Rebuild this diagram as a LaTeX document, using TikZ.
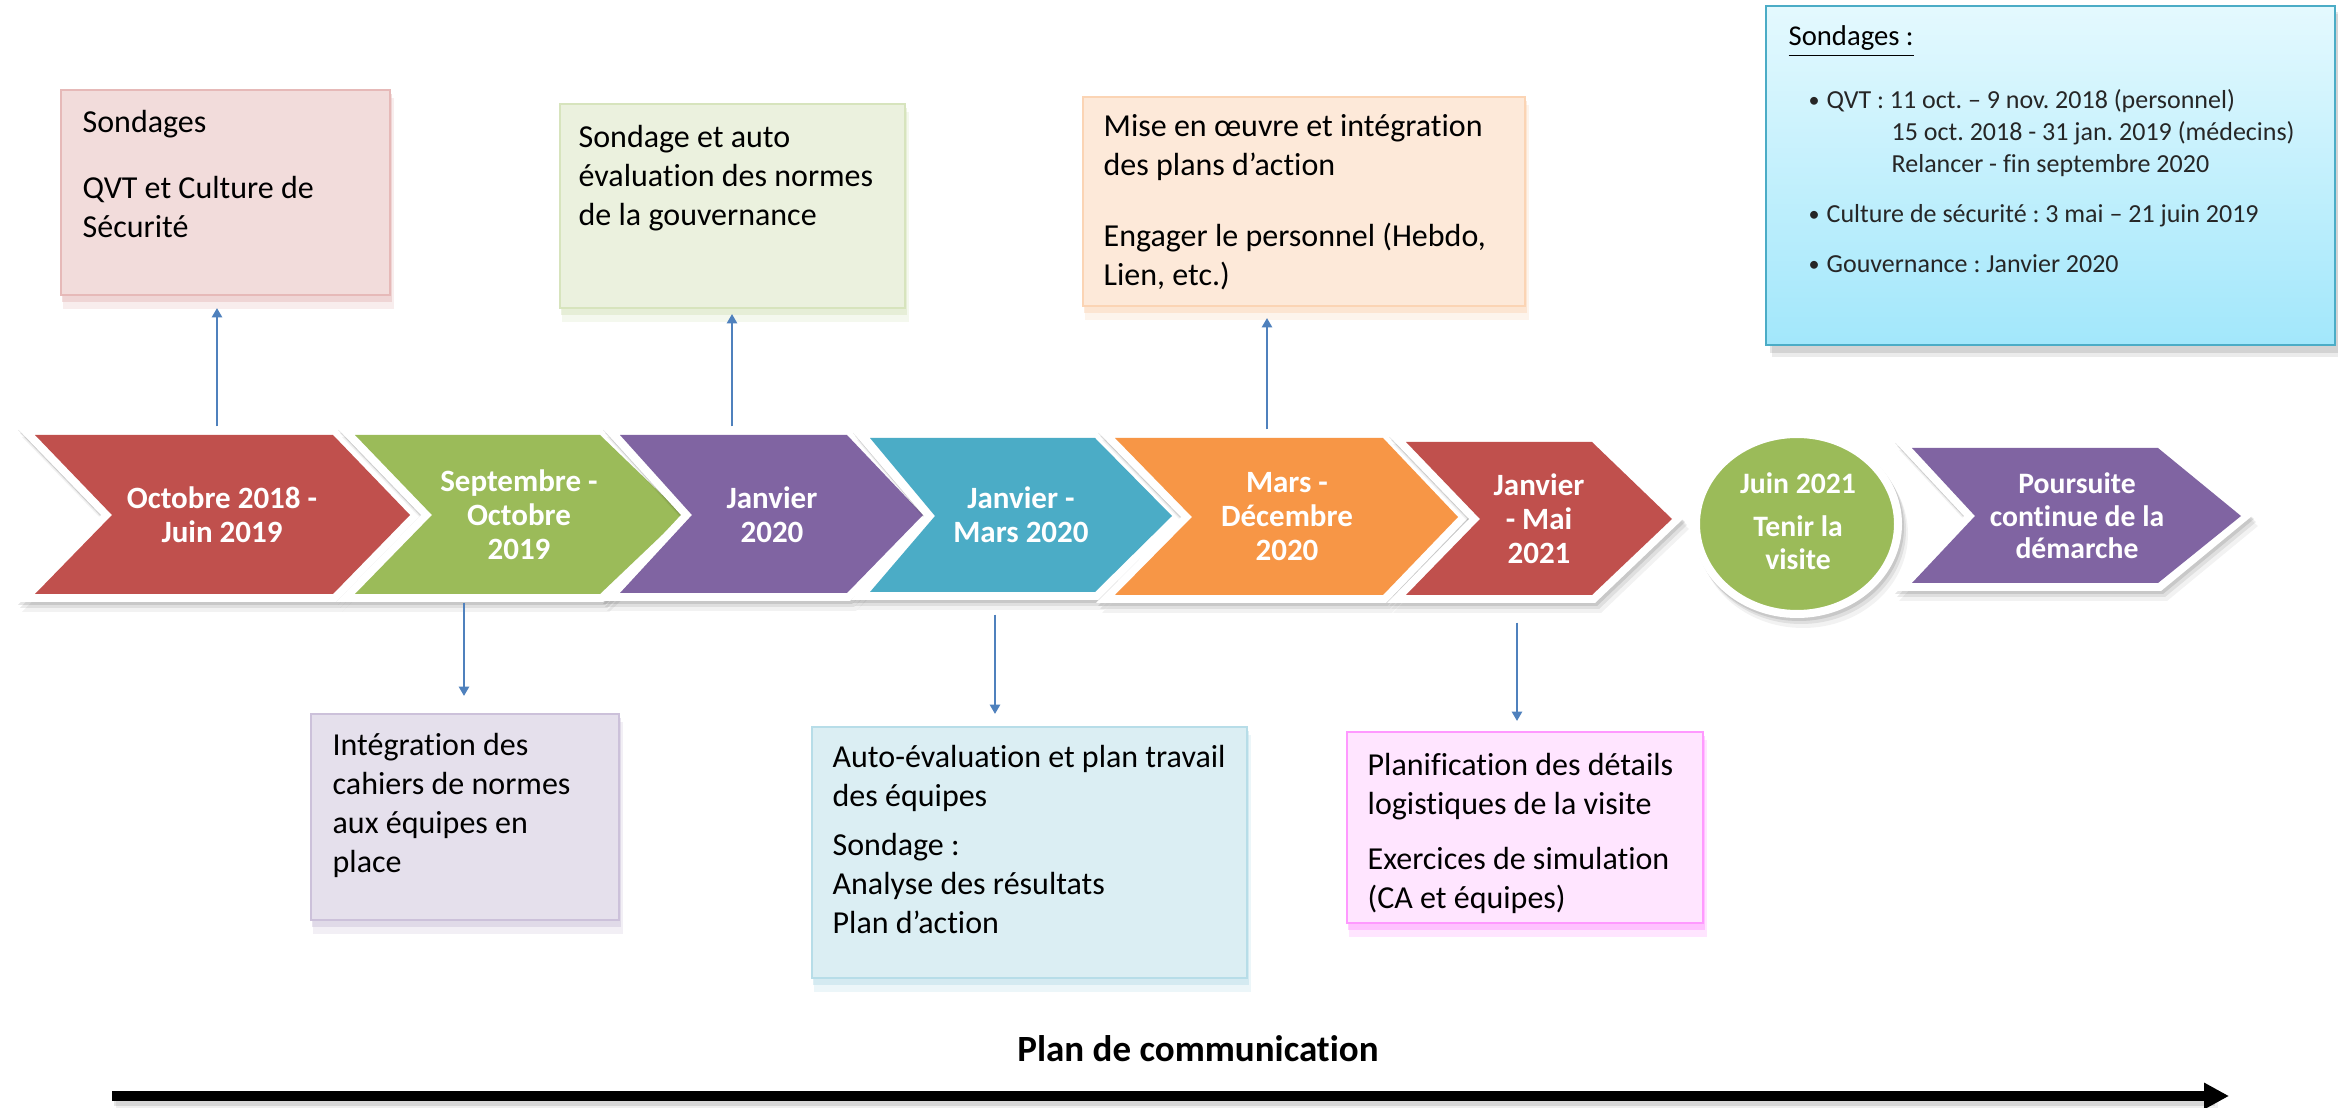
\documentclass[tikz,border=0pt]{standalone}
\usepackage{fontspec}
\setmainfont{Carlito}[Ligatures=NoCommon]
\usetikzlibrary{fit,arrows.meta,shapes.geometric}
\frenchspacing
\definecolor{cRed}{HTML}{C0504D}
\definecolor{cGreen}{HTML}{9BBB59}
\definecolor{cPurple}{HTML}{8064A2}
\definecolor{cAqua}{HTML}{4BACC6}
\definecolor{cOrange}{HTML}{F79646}
\definecolor{arrowBlue}{HTML}{4F81BD}
\definecolor{pinkFill}{HTML}{F2DCDB}\definecolor{pinkLine}{HTML}{E6B9B8}
\definecolor{greenFill}{HTML}{EBF1DE}\definecolor{greenLine}{HTML}{D7E4BD}
\definecolor{orangeFill}{HTML}{FDE9D9}\definecolor{orangeLine}{HTML}{FBD4B4}
\definecolor{lilacFill}{HTML}{E5E0EC}\definecolor{lilacLine}{HTML}{CCC1DA}
\definecolor{aquaFill}{HTML}{DBEEF3}\definecolor{aquaLine}{HTML}{B7DDE8}
\definecolor{magFill}{HTML}{FFE5FF}\definecolor{magLine}{HTML}{FF99FF}
\definecolor{infoTop}{HTML}{E4F9FE}\definecolor{infoBot}{HTML}{A2E7FB}\definecolor{infoLine}{HTML}{4BACC6}
\definecolor{listGray}{HTML}{262626}

% #1 name, #2 L, #3 notch, #4 R, #5 tip, #6 top, #7 mid, #8 bottom, #9 colour
\newcommand{\chevron}[9]{%
  \foreach \sx/\sy/\op in {2/3/0.10,4/6/0.08,6/10/0.05}{%
    \fill[black,opacity=\op,shift={(\sx,\sy)}] (#2-19,#6-8) -- (#4+3,#6-8) -- (#5+11,#7) -- (#4+3,#8+8) -- (#2-19,#8+8) -- (#3-11,#7) -- cycle;
  }%
  \fill[white] (#2-19,#6-8) -- (#4+3,#6-8) -- (#5+11,#7) -- (#4+3,#8+8) -- (#2-19,#8+8) -- (#3-11,#7) -- cycle;
  \fill[#9] (#2,#6) -- (#4,#6) -- (#5,#7) -- (#4,#8) -- (#2,#8) -- (#3,#7) -- cycle;
  \node[fit={(#2,#6) (#5,#8)}, inner sep=2.4pt] (#1) {};
}
% #1 name, #2 x1, #3 y1, #4 x2, #5 y2, #6 fill, #7 line/shadow
\newcommand{\textbox}[7]{%
  \fill[#7,opacity=0.25] (#2+2,#3+8) rectangle (#4+4,#5+14);
  \fill[#7,opacity=0.45] (#2+1,#3+4) rectangle (#4+2,#5+7);
  \node[fit={(#2,#3) (#4,#5)}, inner sep=0pt, fill=#6, draw=#7, line width=0.6pt] (#1) {};
}
\newcommand{\bul}{\makebox[5.4pt][l]{\raisebox{0.2pt}{\scalebox{0.85}{•}}}}

\begin{document}
\begin{tikzpicture}[x=0.3pt,y=-0.3pt,
  conn/.style={draw=arrowBlue, line width=0.75pt, -{Triangle[length=2.8pt,width=3pt]}},
  chevtxt/.style={text=white, align=center, inner sep=0pt, font=\bfseries\fontsize{9.3}{10.2}\selectfont},
  chevtxtsm/.style={text=white, align=center, inner sep=0pt, font=\bfseries\fontsize{8.9}{9.8}\selectfont},
  boxtxt/.style={anchor=north west, align=left, inner sep=0pt, text=black, font=\fontsize{9.6}{11.7}\selectfont},
  listtxt/.style={anchor=north west, align=left, inner sep=0pt, text=listGray, font=\fontsize{7.8}{9.6}\selectfont}
]
\useasboundingbox (0,0) rectangle (2338,1108);
\fill[white] (0,0) rectangle (2338,1108);

% ---------- timeline chevrons ----------
\chevron{c1}{35}{112}{333}{410}{435}{515}{594}{cRed}
\chevron{c2}{355}{432}{600}{683}{435}{515}{594}{cGreen}
\chevron{c3}{620}{692}{847}{923}{435}{515}{593}{cPurple}
\chevron{c4}{870}{935}{1095}{1172}{438}{516}{592}{cAqua}
\chevron{c5}{1115}{1192}{1383}{1458}{438}{517}{595}{cOrange}
\chevron{c6}{1406}{1480}{1592}{1672}{442}{519}{595}{cRed}

% ellipse
\foreach \sx/\sy/\op in {2/3/0.10,4/6/0.08,6/10/0.05}{
  \fill[black,opacity=\op,shift={(\sx,\sy)}] (1797,524) ellipse [x radius=31.5pt, y radius=28.2pt];
}
\node[ellipse, fill=cGreen, draw=white, line width=2.4pt, minimum width=60.6pt, minimum height=54pt, inner sep=0pt] (c7) at (1797,524) {};

\chevron{c8}{1912}{1975}{2158}{2241}{448}{516}{583}{cPurple}

\node[chevtxt] (c1t) at (222,515) {Octobre 2018 -\\Juin 2019};
\node[chevtxt] (c2t) at (519,515) {Septembre -\\Octobre\\2019};
\node[chevtxt] (c3t) at (772,515) {Janvier\\2020};
\node[chevtxt] (c4t) at (1021,515) {Janvier -\\Mars 2020};
\node[chevtxt] (c5t) at (1287,517) {Mars -\\Décembre\\2020};
\node[chevtxt] (c6t) at (1539,519) {Janvier\\- Mai\\2021};
\node[chevtxtsm] (c7t) at (1798,521) {Juin 2021\\[3.3pt]Tenir la\\visite};
\node[chevtxtsm] (c8t) at (2077,516) {Poursuite\\continue de la\\démarche};

% ---------- text boxes ----------
\textbox{b1}{61}{90}{390}{295}{pinkFill}{pinkLine}
\textbox{b2}{560}{104}{905}{308}{greenFill}{greenLine}
\textbox{b3}{1083}{97}{1525}{306}{orangeFill}{orangeLine}
\textbox{b4}{311}{714}{619}{920}{lilacFill}{lilacLine}
\textbox{b5}{812}{727}{1247}{978}{aquaFill}{aquaLine}
\textbox{b6}{1347}{732}{1703}{923}{magFill}{magLine}

\node[boxtxt] (b1t) at (82,104.7) {\strut Sondages\\[8.1pt]QVT et Culture de\\Sécurité};
\node[boxtxt] (b2t) at (578,119.7) {\strut Sondage et auto\\évaluation des normes\\de la gouvernance};
\node[boxtxt] (b3t) at (1103,108.7) {\strut Mise en œuvre et intégration\\des plans d’action\\[9.6pt]Engager le personnel (Hebdo,\\Lien, etc.)};
\node[boxtxt] (b4t) at (332,727.7) {\strut Intégration des\\cahiers de normes\\aux équipes en\\place};
\node[boxtxt] (b5t) at (832,739.7) {\strut Auto-évaluation et plan travail\\des équipes\\[3pt]Sondage :\\Analyse des résultats\\Plan d’action};
\node[boxtxt] (b6t) at (1367,747.7) {\strut Planification des détails\\logistiques de la visite\\[4.8pt]Exercices de simulation\\(CA et équipes)};

% ---------- info box ----------
\fill[black,opacity=0.10] (1770,12) rectangle (2338,353);
\fill[black,opacity=0.08] (1772,14) rectangle (2338,357);
\node[fit={(1766,6) (2335,345)}, inner sep=0pt, draw=infoLine, line width=0.7pt, top color=infoTop, bottom color=infoBot] (info) {};
\node[anchor=base west, inner sep=0pt, font=\fontsize{8.6}{10}\selectfont] (infot) at (1788,46) {\underline{Sondages :}};
\node[listtxt] (infol) at (1808,85.6) {\strut\bul QVT : 11 oct. – 9 nov. 2018 (personnel)\\
\hspace*{24.9pt}15 oct. 2018 - 31 jan. 2019 (médecins)\\
\hspace*{24.9pt}Relancer - fin septembre 2020\\[5.4pt]
\bul Culture de sécurité : 3 mai – 21 juin 2019\\[5.4pt]
\bul Gouvernance : Janvier 2020};

% ---------- connectors ----------
\coordinate (ax1) at (217,0);
\coordinate (ax2) at (732,0);
\coordinate (ax3) at (1267,0);
\coordinate (ax4) at (464,0);
\coordinate (ax5) at (995,0);
\coordinate (ax6) at (1517,0);
\draw[conn, shorten >=3.6pt] (c1.north -| ax1) -- (b1.south -| ax1);
\draw[conn, shorten >=1.5pt] (c3.north -| ax2) -- (b2.south -| ax2);
\draw[conn, shorten >=3.3pt] (c5.north -| ax3) -- (b3.south -| ax3);
\draw[conn, shorten >=5.1pt] (c2.south -| ax4) -- (b4.north -| ax4);
\draw[conn, shorten <=4.2pt, shorten >=3.6pt] (c4.south -| ax5) -- (b5.north -| ax5);
\draw[conn, shorten <=5.7pt, shorten >=3pt] (c6.south -| ax6) -- (b6.north -| ax6);

% ---------- communication plan ----------
\node[inner sep=0pt, font=\bfseries\fontsize{11.1}{13}\selectfont] (plan) at (1198,1049) {Plan de communication};
\coordinate (pl) at (112,1096);
\coordinate (pr) at (2229,1096);
\fill[black,opacity=0.10] (114,1098) rectangle (2215,1106);
\fill[black,opacity=0.06] (116,1100) rectangle (2218,1108);
\draw[line width=2.8pt, -{Triangle[length=7.5pt,width=7.5pt]}] (pl) -- (pr);
\end{tikzpicture}
\end{document}
